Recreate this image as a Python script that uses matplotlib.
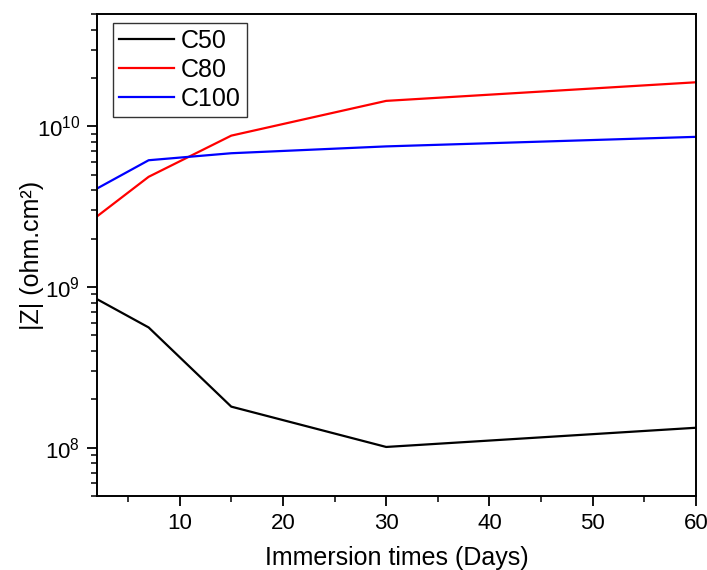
import numpy as np
import matplotlib
matplotlib.use('Agg')
import matplotlib.pyplot as plt
from matplotlib.ticker import LogLocator, MultipleLocator, NullFormatter

plt.rcParams['font.family'] = ['Liberation Sans', 'DejaVu Sans']
plt.rcParams['mathtext.default'] = 'regular'

# 浸泡时间 (天)
days = [2, 7, 15, 30, 60]
# |Z| 数据
z_c50 = [8.4e8, 5.6e8, 1.8e8, 1.01e8, 1.33e8]
z_c80 = [2.75e9, 4.85e9, 8.75e9, 1.44e10, 1.88e10]
z_c100 = [4.1e9, 6.15e9, 6.8e9, 7.5e9, 8.6e9]
labels = ['C50', 'C80', 'C100']

fig = plt.figure(figsize=(7.07, 5.70), dpi=100)
ax = fig.add_axes([0.1372, 0.1298, 0.8472, 0.8456])

ax.plot(days, z_c50, color='black', lw=1.6, label=labels[0])
ax.plot(days, z_c80, color='#ff0000', lw=1.6, label=labels[1])
ax.plot(days, z_c100, color='#0000ff', lw=1.6, label=labels[2])

ax.set_yscale('log')
ax.set_xlim(2, 60)
ax.set_ylim(5e7, 5e10)

ax.xaxis.set_major_locator(MultipleLocator(10))
ax.xaxis.set_minor_locator(MultipleLocator(5))
ax.yaxis.set_major_locator(LogLocator(base=10))
ax.yaxis.set_minor_locator(LogLocator(base=10, subs=np.arange(2, 10)))
ax.yaxis.set_minor_formatter(NullFormatter())

ax.tick_params(which='major', direction='out', length=7, width=1.3, labelsize=16, pad=5)
ax.tick_params(which='minor', direction='out', length=4, width=1.1)
for sp in ax.spines.values():
    sp.set_linewidth(1.4)

ax.set_xlabel('Immersion times (Days)', fontsize=18, labelpad=9)
ax.set_ylabel('|Z| (ohm.cm²)', fontsize=18, labelpad=-5)

leg = ax.legend(loc='upper left', fontsize=18, handlelength=2.2, handletextpad=0.25,
                labelspacing=0.2, borderpad=0.25, fancybox=False, framealpha=1,
                bbox_to_anchor=(0.027, 0.982), borderaxespad=0.0)
leg.get_frame().set_edgecolor('#333333')
leg.get_frame().set_linewidth(1.0)

fig.savefig('out.png', dpi=100)
